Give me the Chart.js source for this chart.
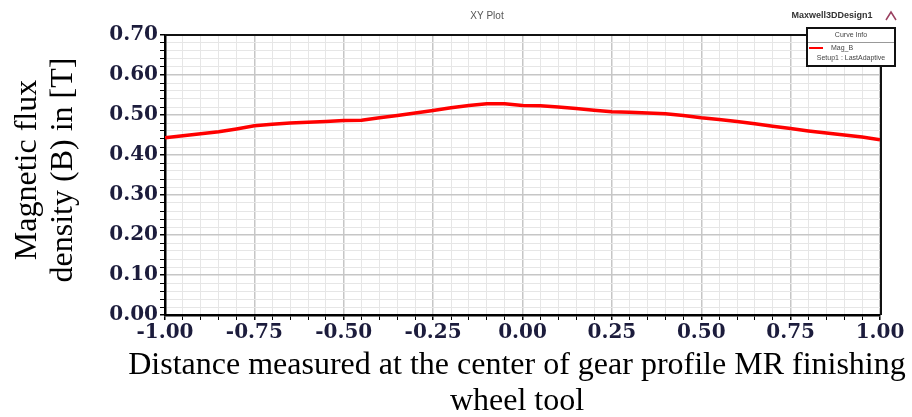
<!DOCTYPE html>
<html>
<head>
<meta charset="utf-8">
<script src="https://cdn.jsdelivr.net/npm/chart.js@4.4.1/dist/chart.umd.min.js"></script>
<style>
  html, body { margin: 0; padding: 0; background: #fff; }
  #wrap { width: 912px; height: 417px; position: relative; }
</style>
</head>
<body>
<div id="wrap"><canvas id="plot" width="912" height="417"></canvas></div>
<script>
// distance along the wheel profile (normalised) and flux density in T
const positions = [
  -1.00, -0.95, -0.90, -0.85, -0.80, -0.75, -0.70, -0.65, -0.60, -0.55,
  -0.50, -0.45, -0.40, -0.35, -0.30, -0.25, -0.20, -0.15, -0.10, -0.05,
   0.00,  0.05,  0.10,  0.15,  0.20,  0.25,  0.30,  0.35,  0.40,  0.45,
   0.50,  0.55,  0.60,  0.65,  0.70,  0.75,  0.80,  0.85,  0.90,  0.95, 1.00
];
const fluxB = [
  0.443, 0.448, 0.453, 0.458, 0.465, 0.473, 0.477, 0.480, 0.482, 0.484,
  0.486, 0.487, 0.493, 0.499, 0.505, 0.511, 0.518, 0.524, 0.528, 0.528,
  0.524, 0.523, 0.520, 0.516, 0.512, 0.508, 0.507, 0.505, 0.503, 0.499,
  0.493, 0.489, 0.484, 0.478, 0.472, 0.466, 0.460, 0.455, 0.450, 0.445, 0.438
];
const xLabelTicks = [-1.00, -0.75, -0.50, -0.25, 0.00, 0.25, 0.50, 0.75, 1.00];
const yLabelTicks = [0.00, 0.10, 0.20, 0.30, 0.40, 0.50, 0.60, 0.70];
const seriesName = 'Mag_B';
const setupName = 'Setup1 : LastAdaptive';
const yTitle = ['Magnetic flux', 'density (B) in [T]'];
const xTitle = ['Distance measured at the center of gear profile MR finishing', 'wheel tool'];

const isLabelled = (v, list) => list.some(t => Math.abs(t - v) < 1e-6);
const tickFont = { family: 'DejaVu Serif', size: 20, weight: 'bold' };
const tickColor = '#1c1c3c';

// frame, titles and the little legend box
const decorations = {
  id: 'decorations',
  afterDraw(chart) {
    const { ctx, chartArea: a } = chart;
    ctx.save();

    // top and right frame lines
    ctx.strokeStyle = '#111';
    ctx.lineWidth = 2;
    ctx.beginPath();
    ctx.moveTo(a.left, a.top);
    ctx.lineTo(807, a.top);
    ctx.moveTo(a.right + 1, 66);
    ctx.lineTo(a.right + 1, a.bottom);
    ctx.stroke();

    // legend box
    ctx.fillStyle = '#fff';
    ctx.fillRect(807, 28, 88, 38);
    ctx.strokeRect(807, 28, 88, 38);
    ctx.strokeStyle = '#999';
    ctx.lineWidth = 1;
    ctx.beginPath();
    ctx.moveTo(808, 42.5);
    ctx.lineTo(894, 42.5);
    ctx.stroke();
    ctx.strokeStyle = '#ff0000';
    ctx.lineWidth = 2;
    ctx.beginPath();
    ctx.moveTo(809, 48);
    ctx.lineTo(823, 48);
    ctx.stroke();
    ctx.font = '7px "Liberation Sans"';
    ctx.fillStyle = '#444';
    ctx.textBaseline = 'middle';
    ctx.textAlign = 'center';
    ctx.fillText('Curve Info', 851, 35);
    ctx.fillText(setupName, 851, 58);
    ctx.textAlign = 'left';
    ctx.fillText(seriesName, 831, 48);

    // header texts
    ctx.font = '10px "Liberation Sans"';
    ctx.fillStyle = '#555';
    ctx.textAlign = 'center';
    ctx.fillText('XY Plot', 487, 16);
    ctx.font = 'bold 9px "Liberation Sans"';
    ctx.fillStyle = '#333';
    ctx.fillText('Maxwell3DDesign1', 832, 16);
    // small logo mark
    ctx.strokeStyle = '#9a4060';
    ctx.lineWidth = 1.5;
    ctx.beginPath();
    ctx.moveTo(886, 20);
    ctx.lineTo(891, 12);
    ctx.lineTo(896, 20);
    ctx.stroke();

    // axis titles
    ctx.fillStyle = '#000';
    ctx.font = '32px "Liberation Serif"';
    ctx.textAlign = 'center';
    ctx.fillText(xTitle[0], 517, 366);
    ctx.fillText(xTitle[1], 517, 402);
    ctx.save();
    ctx.translate(28, 170);
    ctx.rotate(-Math.PI / 2);
    ctx.fillText(yTitle[0], 0, 0);
    ctx.restore();
    ctx.save();
    ctx.translate(64, 170);
    ctx.rotate(-Math.PI / 2);
    ctx.fillText(yTitle[1], 0, 0);
    ctx.restore();

    ctx.restore();
  }
};

new Chart(document.getElementById('plot'), {
  type: 'line',
  data: {
    datasets: [{
      label: seriesName,
      data: positions.map((x, i) => ({ x, y: fluxB[i] })),
      borderColor: '#ff0000',
      borderWidth: 3.5,
      pointRadius: 0,
      tension: 0,
      fill: false
    }]
  },
  options: {
    responsive: false,
    animation: false,
    layout: { padding: { top: 35, right: 32, left: 0, bottom: 0 } },
    plugins: { legend: { display: false }, tooltip: { enabled: false } },
    scales: {
      x: {
        type: 'linear',
        min: -1,
        max: 1,
        afterFit: s => { s.height = 102; },
        border: { color: '#000', width: 2.5 },
        grid: {
          color: c => isLabelled(c.tick.value, xLabelTicks) ? '#c6c6c6' : '#e6e6e6',
          lineWidth: c => isLabelled(c.tick.value, xLabelTicks) ? 1.5 : 1,
          tickColor: '#000',
          tickLength: 5
        },
        ticks: {
          stepSize: 0.05,
          autoSkip: false,
          maxRotation: 0,
          padding: 1,
          color: tickColor,
          font: tickFont,
          callback: v => isLabelled(v, xLabelTicks) ? Number(v).toFixed(2) : ''
        }
      },
      y: {
        min: 0,
        max: 0.7,
        afterFit: s => { s.width = 165; },
        border: { color: '#000', width: 2.5 },
        grid: {
          color: c => isLabelled(c.tick.value, yLabelTicks) ? '#c6c6c6' : '#e6e6e6',
          lineWidth: c => isLabelled(c.tick.value, yLabelTicks) ? 1.5 : 1,
          tickColor: '#000',
          tickLength: 5
        },
        ticks: {
          stepSize: 0.02,
          autoSkip: false,
          padding: 2,
          color: tickColor,
          font: tickFont,
          callback: v => isLabelled(v, yLabelTicks) ? Number(v).toFixed(2) : ''
        }
      }
    }
  },
  plugins: [decorations]
});
</script>
</body>
</html>
